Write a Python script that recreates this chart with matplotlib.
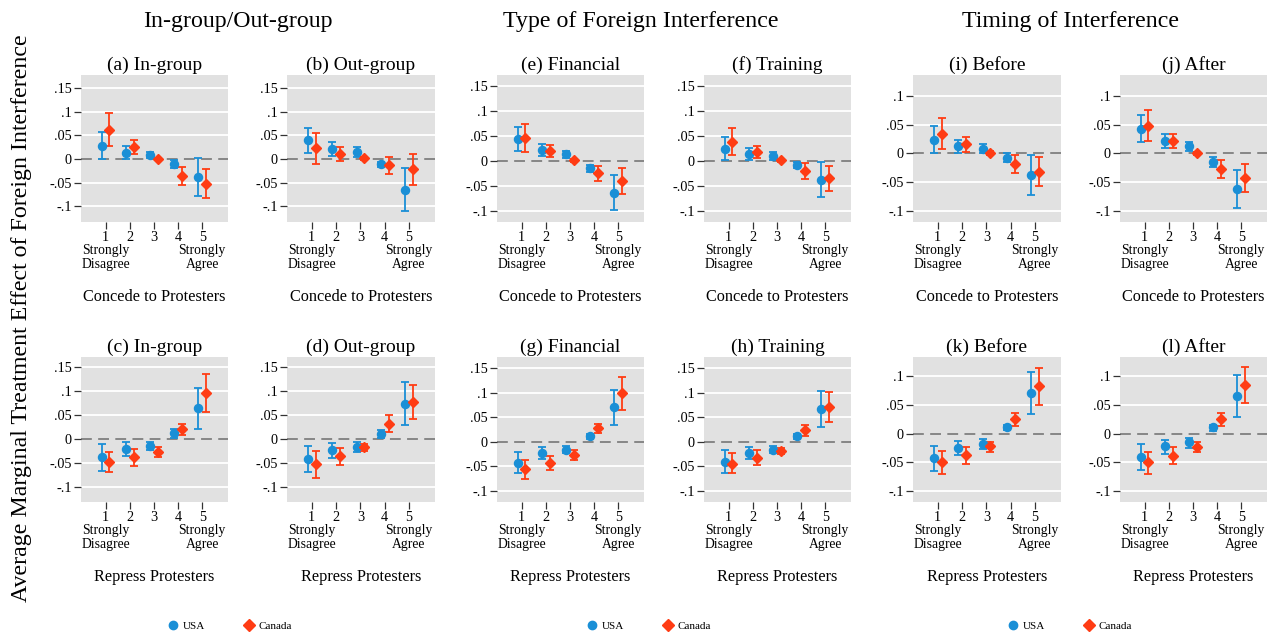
import matplotlib
matplotlib.use("Agg")
import matplotlib.pyplot as plt
from matplotlib.lines import Line2D
import numpy as np

plt.rcParams['font.family'] = ['Liberation Serif', 'DejaVu Serif']

# ---------------- data ----------------
levels = [1, 2, 3, 4, 5]
level_labels = ["1", "2", "3", "4", "5"]

# (a) In-group, Concede
a_usa = [0.028, 0.013, 0.008, -0.010, -0.038]
a_usa_lo = [0.000, -0.001, 0.001, -0.019, -0.078]
a_usa_hi = [0.056, 0.027, 0.015, -0.003, 0.001]
a_can = [0.062, 0.026, 0.000, -0.035, -0.052]
a_can_lo = [0.028, 0.010, -0.003, -0.054, -0.083]
a_can_hi = [0.096, 0.039, 0.003, -0.017, -0.022]
# (b) Out-group, Concede
b_usa = [0.039, 0.021, 0.015, -0.011, -0.065]
b_usa_lo = [0.013, 0.006, 0.004, -0.018, -0.109]
b_usa_hi = [0.065, 0.035, 0.025, -0.006, -0.019]
b_can = [0.023, 0.011, 0.001, -0.013, -0.022]
b_can_lo = [-0.010, -0.005, -0.002, -0.031, -0.055]
b_can_hi = [0.055, 0.026, 0.004, 0.005, 0.010]
# (c) In-group, Repress
c_usa = [-0.039, -0.022, -0.015, 0.011, 0.063]
c_usa_lo = [-0.068, -0.036, -0.024, 0.001, 0.020]
c_usa_hi = [-0.011, -0.007, -0.006, 0.021, 0.106]
c_can = [-0.048, -0.038, -0.028, 0.020, 0.095]
c_can_lo = [-0.070, -0.056, -0.039, 0.008, 0.056]
c_can_hi = [-0.027, -0.022, -0.017, 0.031, 0.134]
# (d) Out-group, Repress
d_usa = [-0.043, -0.024, -0.017, 0.010, 0.073]
d_usa_lo = [-0.070, -0.040, -0.028, 0.001, 0.029]
d_usa_hi = [-0.015, -0.009, -0.008, 0.019, 0.118]
d_can = [-0.053, -0.037, -0.018, 0.031, 0.077]
d_can_lo = [-0.082, -0.055, -0.025, 0.013, 0.041]
d_can_hi = [-0.026, -0.019, -0.012, 0.049, 0.112]
# (e) Financial, Concede
e_usa = [0.044, 0.022, 0.013, -0.015, -0.064]
e_usa_lo = [0.020, 0.010, 0.006, -0.023, -0.098]
e_usa_hi = [0.068, 0.033, 0.020, -0.008, -0.029]
e_can = [0.045, 0.020, 0.001, -0.025, -0.040]
e_can_lo = [0.017, 0.007, -0.002, -0.041, -0.066]
e_can_hi = [0.074, 0.032, 0.004, -0.010, -0.015]
# (f) Training, Concede
f_usa = [0.024, 0.014, 0.009, -0.008, -0.038]
f_usa_lo = [0.001, 0.002, 0.002, -0.015, -0.073]
f_usa_hi = [0.047, 0.025, 0.017, -0.002, -0.003]
f_can = [0.038, 0.017, 0.001, -0.021, -0.034]
f_can_lo = [0.011, 0.005, -0.002, -0.036, -0.060]
f_can_hi = [0.066, 0.029, 0.004, -0.005, -0.010]
# (g) Financial, Repress
g_usa = [-0.042, -0.023, -0.016, 0.011, 0.070]
g_usa_lo = [-0.064, -0.035, -0.023, 0.006, 0.034]
g_usa_hi = [-0.020, -0.011, -0.008, 0.016, 0.105]
g_can = [-0.055, -0.042, -0.027, 0.028, 0.098]
g_can_lo = [-0.075, -0.057, -0.036, 0.017, 0.064]
g_can_hi = [-0.036, -0.028, -0.017, 0.037, 0.131]
# (h) Training, Repress
h_usa = [-0.041, -0.022, -0.016, 0.011, 0.067]
h_usa_lo = [-0.063, -0.034, -0.023, 0.006, 0.030]
h_usa_hi = [-0.017, -0.010, -0.008, 0.016, 0.104]
h_can = [-0.044, -0.032, -0.018, 0.023, 0.070]
h_can_lo = [-0.063, -0.046, -0.025, 0.012, 0.040]
h_can_hi = [-0.023, -0.017, -0.012, 0.034, 0.102]
# (i) Before, Concede
i_usa = [0.024, 0.013, 0.008, -0.008, -0.038]
i_usa_lo = [0.001, 0.001, 0.000, -0.015, -0.073]
i_usa_hi = [0.047, 0.024, 0.016, 0.000, -0.002]
i_can = [0.034, 0.016, 0.001, -0.019, -0.032]
i_can_lo = [0.008, 0.003, -0.002, -0.034, -0.057]
i_can_hi = [0.062, 0.028, 0.004, -0.003, -0.007]
# (j) After, Concede
j_usa = [0.042, 0.022, 0.013, -0.015, -0.062]
j_usa_lo = [0.020, 0.010, 0.005, -0.023, -0.095]
j_usa_hi = [0.066, 0.033, 0.020, -0.006, -0.028]
j_can = [0.048, 0.021, 0.000, -0.027, -0.042]
j_can_lo = [0.021, 0.009, -0.003, -0.042, -0.067]
j_can_hi = [0.076, 0.033, 0.003, -0.012, -0.018]
# (k) Before, Repress
k_usa = [-0.043, -0.024, -0.018, 0.011, 0.071]
k_usa_lo = [-0.065, -0.037, -0.026, 0.006, 0.035]
k_usa_hi = [-0.021, -0.012, -0.009, 0.016, 0.108]
k_can = [-0.049, -0.037, -0.022, 0.025, 0.083]
k_can_lo = [-0.070, -0.052, -0.032, 0.013, 0.051]
k_can_hi = [-0.030, -0.023, -0.014, 0.036, 0.115]
# (l) After, Repress
l_usa = [-0.040, -0.022, -0.015, 0.011, 0.066]
l_usa_lo = [-0.063, -0.035, -0.024, 0.005, 0.029]
l_usa_hi = [-0.018, -0.010, -0.007, 0.016, 0.102]
l_can = [-0.050, -0.038, -0.023, 0.026, 0.085]
l_can_lo = [-0.070, -0.052, -0.032, 0.014, 0.053]
l_can_hi = [-0.032, -0.023, -0.014, 0.036, 0.117]

titles = {"a": "(a) In-group", "b": "(b) Out-group", "c": "(c) In-group", "d": "(d) Out-group",
          "e": "(e) Financial", "f": "(f) Training", "g": "(g) Financial", "h": "(h) Training",
          "i": "(i) Before", "j": "(j) After", "k": "(k) Before", "l": "(l) After"}
group_titles = ["In-group/Out-group", "Type of Foreign Interference", "Timing of Interference"]
xlabels = ["Concede to Protesters", "Repress Protesters"]
series_names = ["USA", "Canada"]
ytick_vals_wide = [-0.1, -0.05, 0, 0.05, 0.1, 0.15]
ytick_labels_wide = ["-.1", "-.05", "0", ".05", ".1", ".15"]
ytick_vals_narrow = [-0.1, -0.05, 0, 0.05, 0.1]
ytick_labels_narrow = ["-.1", "-.05", "0", ".05", ".1"]

panel_data = {
    "a": (a_usa, a_usa_lo, a_usa_hi, a_can, a_can_lo, a_can_hi),
    "b": (b_usa, b_usa_lo, b_usa_hi, b_can, b_can_lo, b_can_hi),
    "c": (c_usa, c_usa_lo, c_usa_hi, c_can, c_can_lo, c_can_hi),
    "d": (d_usa, d_usa_lo, d_usa_hi, d_can, d_can_lo, d_can_hi),
    "e": (e_usa, e_usa_lo, e_usa_hi, e_can, e_can_lo, e_can_hi),
    "f": (f_usa, f_usa_lo, f_usa_hi, f_can, f_can_lo, f_can_hi),
    "g": (g_usa, g_usa_lo, g_usa_hi, g_can, g_can_lo, g_can_hi),
    "h": (h_usa, h_usa_lo, h_usa_hi, h_can, h_can_lo, h_can_hi),
    "i": (i_usa, i_usa_lo, i_usa_hi, i_can, i_can_lo, i_can_hi),
    "j": (j_usa, j_usa_lo, j_usa_hi, j_can, j_can_lo, j_can_hi),
    "k": (k_usa, k_usa_lo, k_usa_hi, k_can, k_can_lo, k_can_hi),
    "l": (l_usa, l_usa_lo, l_usa_hi, l_can, l_can_lo, l_can_hi),
}

# ---------------- layout ----------------
W, H = 1269, 641
fig = plt.figure(figsize=(W / 100, H / 100), dpi=100)

USA_C = "#1a8fd6"
CAN_C = "#ff3c14"
BG = "#e1e1e1"

col_px = [(81, 228), (287, 435), (497, 644), (704, 851), (913, 1061), (1120, 1267)]
row_px = [(75, 222), (357, 502)]
layout = [["a", "b", "e", "f", "i", "j"], ["c", "d", "g", "h", "k", "l"]]
ylims = {"a": (-0.133, 0.177), "b": (-0.133, 0.177), "c": (-0.132, 0.170), "d": (-0.132, 0.170),
         "e": (-0.122, 0.171), "f": (-0.122, 0.171), "g": (-0.122, 0.172), "h": (-0.122, 0.172),
         "i": (-0.119, 0.136), "j": (-0.119, 0.136), "k": (-0.119, 0.134), "l": (-0.119, 0.134)}

off = 0.16
x = np.array(levels, dtype=float)

for r, row in enumerate(layout):
    for c, key in enumerate(row):
        l, rr = col_px[c]
        t, b = row_px[r]
        ax = fig.add_axes([l / W, 1 - b / H, (rr - l) / W, (b - t) / H])
        ax.set_facecolor(BG)
        for s in ax.spines.values():
            s.set_visible(False)
        us, us_lo, us_hi, ca, ca_lo, ca_hi = panel_data[key]
        us, us_lo, us_hi = map(np.array, (us, us_lo, us_hi))
        ca, ca_lo, ca_hi = map(np.array, (ca, ca_lo, ca_hi))
        if key in "ijkl":
            yv, yl = ytick_vals_narrow, ytick_labels_narrow
        else:
            yv, yl = ytick_vals_wide, ytick_labels_wide
        for v in yv:
            if v != 0:
                ax.axhline(v, color="white", lw=1.3, zorder=0)
        ax.axhline(0, color="#7f7f7f", lw=1.3, ls=(0, (6, 3.5)), zorder=1)
        ax.errorbar(x - off, us, yerr=[us - us_lo, us_hi - us], fmt="o", color=USA_C,
                    ms=5.8, lw=1.3, capsize=3, capthick=1.3, zorder=3)
        ax.errorbar(x + off, ca, yerr=[ca - ca_lo, ca_hi - ca], fmt="D", color=CAN_C,
                    ms=5.6, lw=1.3, capsize=3, capthick=1.3, zorder=3)
        ax.set_xlim(-0.02, 6.07)
        ax.set_ylim(*ylims[key])
        ax.set_yticks(yv)
        ax.set_yticklabels(yl, fontsize=10.3)
        ax.set_xticks(levels)
        ax.set_xticklabels(level_labels, fontsize=10.3)
        ax.tick_params(axis="both", length=5, width=0.9, color="#333333", pad=1.5)
        ax.set_title(titles[key], fontsize=14, pad=4)
        ax.annotate("Strongly\nDisagree", xy=(levels[0], 0), xycoords=("data", "axes fraction"),
                    xytext=(0, -22), textcoords="offset pixels", ha="center", va="top",
                    fontsize=9.8, linespacing=1.1)
        ax.annotate("Strongly\nAgree", xy=(levels[-1], 0), xycoords=("data", "axes fraction"),
                    xytext=(0, -22), textcoords="offset pixels", ha="center", va="top",
                    fontsize=9.8, linespacing=1.1)
        ax.annotate(xlabels[r], xy=(0.5, 0), xycoords="axes fraction",
                    xytext=(0, -75), textcoords="offset pixels", ha="center", va="center",
                    fontsize=11.7)

# group titles
for gt, cx in zip(group_titles, [238, 641, 1071]):
    fig.text(cx / W, 1 - 22 / H, gt, ha="center", va="center", fontsize=17.2)

# y label
fig.text(22 / W, 1 - 318 / H, "Average Marginal Treatment Effect of Foreign Interference",
         rotation=90, ha="center", va="center", fontsize=17.2)

# legends
handles = [Line2D([], [], marker="o", ls="none", color=USA_C, ms=6),
           Line2D([], [], marker="D", ls="none", color=CAN_C, ms=6)]
for cx in [230, 649, 1070]:
    fig.legend(handles, series_names, loc="center", bbox_to_anchor=(cx / W, 1 - 626 / H),
               ncol=2, frameon=False, fontsize=8, handletextpad=0.4, columnspacing=3.4,
               handlelength=1.0)

fig.savefig("out.png", dpi=100)
